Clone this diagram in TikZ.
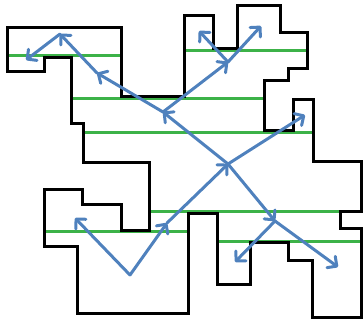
\documentclass[tikz,border=0pt]{standalone}
\usetikzlibrary{arrows.meta}
\definecolor{wallgreen}{RGB}{60,178,72}
\definecolor{arrowblue}{RGB}{79,129,189}
\tikzset{
  outline/.style={draw=black, line width=3pt, line join=miter},
  cutline/.style={draw=wallgreen, line width=3pt},
  ray/.style={draw=arrowblue, line width=3pt, line cap=round, line join=round,
    -{Straight Barb[length=7pt,width=14pt,line cap=round,line join=round]}},
}
\begin{document}
\begin{tikzpicture}[x=1pt,y=-1pt]
\useasboundingbox (0,0) rectangle (363,322);
% green lines
\draw[cutline] (7,55) -- (121,55);
\draw[cutline] (184,50) -- (307,50);
\draw[cutline] (71,98.5) -- (264,98.5);
\draw[cutline] (83,132) -- (313,132);
\draw[cutline] (149,211) -- (340,211);
\draw[cutline] (44,231.5) -- (188,231.5);
\draw[cutline] (217,241) -- (361,241);
% outline
\draw[outline] (7,27) -- (121,27) -- (121,96) -- (184,96) -- (184,15) -- (213,15)
  -- (213,48) -- (237,48) -- (237,5) -- (280,5) -- (280,32) -- (307,32) -- (307,68)
  -- (288,68) -- (288,80) -- (264,80) -- (264,130) -- (293,130) -- (293,99) -- (313,99)
  -- (313,161) -- (361,161) -- (361,211) -- (340,211) -- (340,228) -- (361,228)
  -- (361,317) -- (312,317) -- (312,260) -- (288,260) -- (288,242.5) -- (250,242.5)
  -- (250,284) -- (217,284) -- (217,213.5) -- (188,213.5) -- (188,313) -- (77,313)
  -- (77,246) -- (44,246) -- (44,189) -- (82,189) -- (82,204) -- (121,204) -- (121,230)
  -- (149,230) -- (149,162) -- (83,162) -- (83,123) -- (71,123) -- (71,57) -- (44,57)
  -- (44,71) -- (7,71) -- cycle;
% tree vertices
\coordinate (r) at (130,275);
\coordinate (a1) at (75,218);
\coordinate (a2) at (167,223);
\coordinate (c) at (228,164);
\coordinate (d) at (163,112);
\coordinate (e) at (305,115);
\coordinate (f) at (275,221);
\coordinate (g) at (97,73);
\coordinate (h) at (60,34);
\coordinate (i) at (26,60);
\coordinate (j) at (228,62);
\coordinate (k) at (199,31);
\coordinate (l) at (261,26);
\coordinate (m) at (235,262);
\coordinate (n) at (338,267);
% arrows
\draw[ray] (r) -- (a1);
\draw[ray] (r) -- (a2);
\draw[ray] (a2) -- (c);
\draw[ray] (c) -- (d);
\draw[ray] (c) -- (e);
\draw[ray] (c) -- (f);
\draw[ray] (d) -- (g);
\draw[ray] (g) -- (h);
\draw[ray] (h) -- (i);
\draw[ray] (d) -- (j);
\draw[ray] (j) -- (k);
\draw[ray] (j) -- (l);
\draw[ray] (f) -- (m);
\draw[ray] (f) -- (n);
\end{tikzpicture}
\end{document}
